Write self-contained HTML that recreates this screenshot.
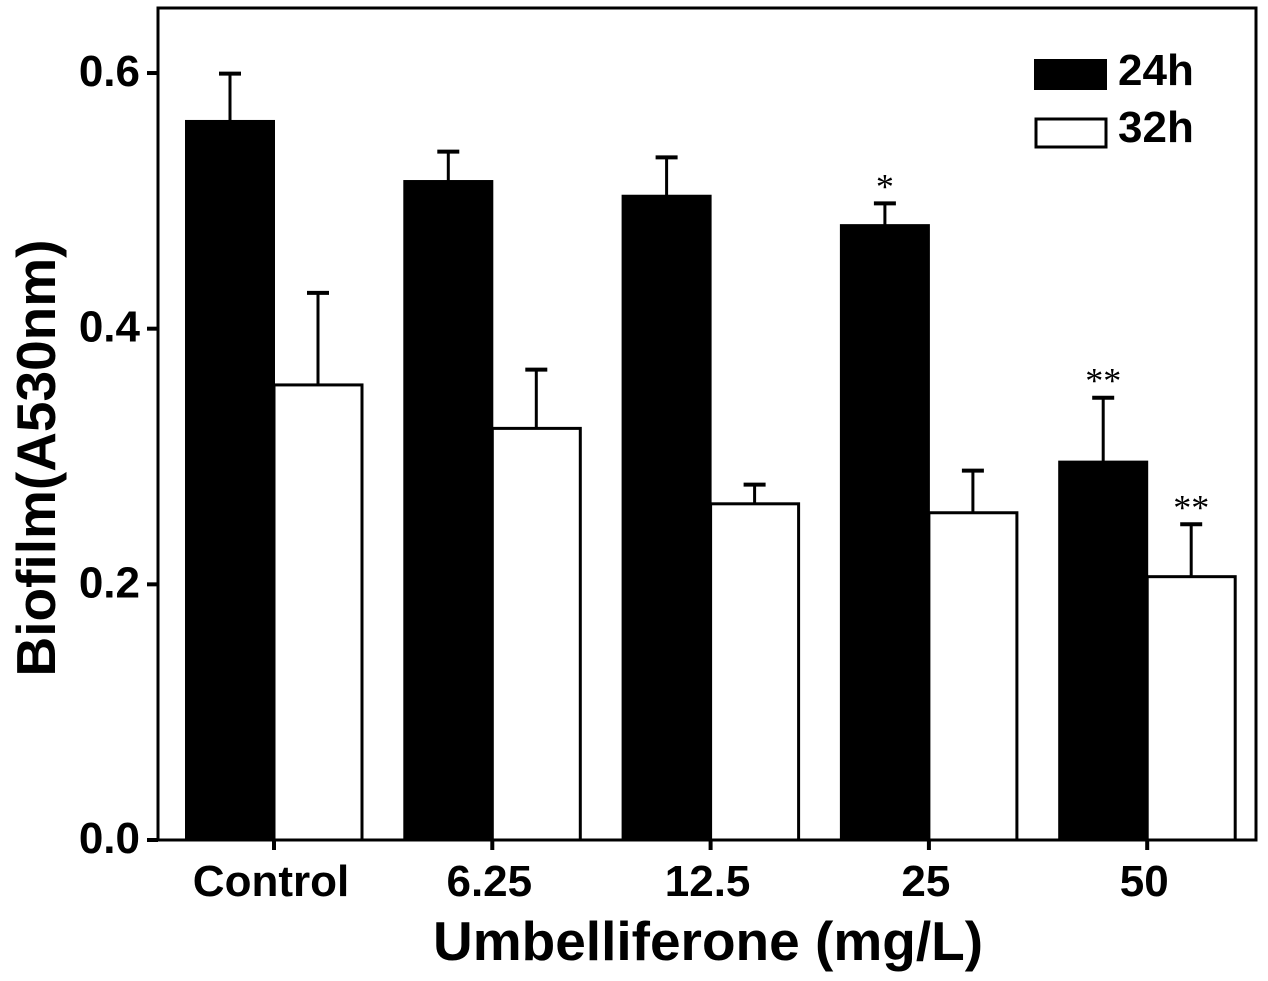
<!DOCTYPE html>
<html><head><meta charset="utf-8"><style>
html,body{margin:0;padding:0;background:#fff;}
svg{display:block;font-family:"Liberation Sans",Arial,sans-serif;font-weight:bold;}
</style></head><body>
<svg id="chart" width="1268" height="981" viewBox="0 0 1268 981"></svg>
<script>
const categories = ["Control","6.25","12.5","25","50"];
const series24 = [0.5625,0.5155,0.504,0.481,0.296];
const err24 = [0.037,0.023,0.030,0.017,0.050];
const series32 = [0.356,0.322,0.263,0.256,0.206];
const err32 = [0.072,0.046,0.015,0.033,0.041];
const stars24 = ["","","","*","**"];
const stars32 = ["","","","","**"];
const yTicks = [0.0,0.2,0.4,0.6];
const yTickLabels = ["0.0","0.2","0.4","0.6"];

const NS="http://www.w3.org/2000/svg";
const svg=document.getElementById('chart');
const L=158,R=1256,T=8,B=840;
const y=v=>B-v*1278.3;
const groupX=i=>274+i*218.3;
const bw=88;
function mk(tag,attrs,parent){const e=document.createElementNS(NS,tag);for(const k in attrs)e.setAttribute(k,attrs[k]);(parent||svg).appendChild(e);return e;}

const frame=mk('rect',{x:L,y:T,width:R-L,height:B-T,fill:'none',stroke:'#000','stroke-width':3});



yTicks.forEach((t,i)=>{
  const tk=mk('line',{x1:L-11,x2:L,y1:y(t),y2:y(t),stroke:'#000','stroke-width':4});
  
  
  const lb=mk('text',{x:L-18,y:y(t)+13,'text-anchor':'end','font-size':44});
  lb.textContent=yTickLabels[i];
  
  
});

function errBar(cx,v,e){
  const g=mk('g',{});
  
  
  mk('line',{x1:cx,x2:cx,y1:y(v),y2:y(v+e),stroke:'#000','stroke-width':3},g);
  mk('line',{x1:cx-11,x2:cx+11,y1:y(v+e),y2:y(v+e),stroke:'#000','stroke-width':4},g);
}
function star(cx,v,e,s){
  if(!s)return;
  const t=mk('text',{x:cx,y:y(v+e)-5,'text-anchor':'middle','font-size':36,'font-weight':'normal','font-family':'"Liberation Serif",serif'});
  t.textContent=s;
  
  
}

categories.forEach((c,i)=>{
  const gx=groupX(i);
  errBar(gx-bw/2,series24[i],err24[i]);
  const b1=mk('rect',{x:gx-bw,y:y(series24[i]),width:bw,height:B-y(series24[i]),fill:'#000',stroke:'#000','stroke-width':2});
  
  
  errBar(gx+bw/2,series32[i],err32[i]);
  const b2=mk('rect',{x:gx,y:y(series32[i]),width:bw,height:B-y(series32[i]),fill:'#fff',stroke:'#000','stroke-width':3});
  
  
  star(gx-bw/2,series24[i],err24[i],stars24[i]);
  star(gx+bw/2,series32[i],err32[i],stars32[i]);
  const tk=mk('line',{x1:gx,x2:gx,y1:B,y2:B+10,stroke:'#000','stroke-width':4});
  
  
  const lb=mk('text',{x:gx-3,y:896,'text-anchor':'middle','font-size':44});
  lb.textContent=c;
  
  
});

const xt=mk('text',{x:708,y:960,'text-anchor':'middle','font-size':55});
xt.textContent='Umbelliferone (mg/L)';


const yt=mk('text',{x:0,y:0,'text-anchor':'middle','font-size':55,transform:'translate(55,458) rotate(-90)'});
yt.textContent='Biofilm(A530nm)';



const lg=mk('g',{});


const e1=mk('g',{},lg);


mk('rect',{x:1035,y:60,width:71,height:29,fill:'#000',stroke:'#000','stroke-width':2},e1);
mk('text',{x:1118,y:85,'font-size':44},e1).textContent='24h';
const e2=mk('g',{},lg);


mk('rect',{x:1036,y:119,width:70,height:28,fill:'#fff',stroke:'#000','stroke-width':3},e2);
mk('text',{x:1118,y:142,'font-size':44},e2).textContent='32h';
</script>
</body></html>
